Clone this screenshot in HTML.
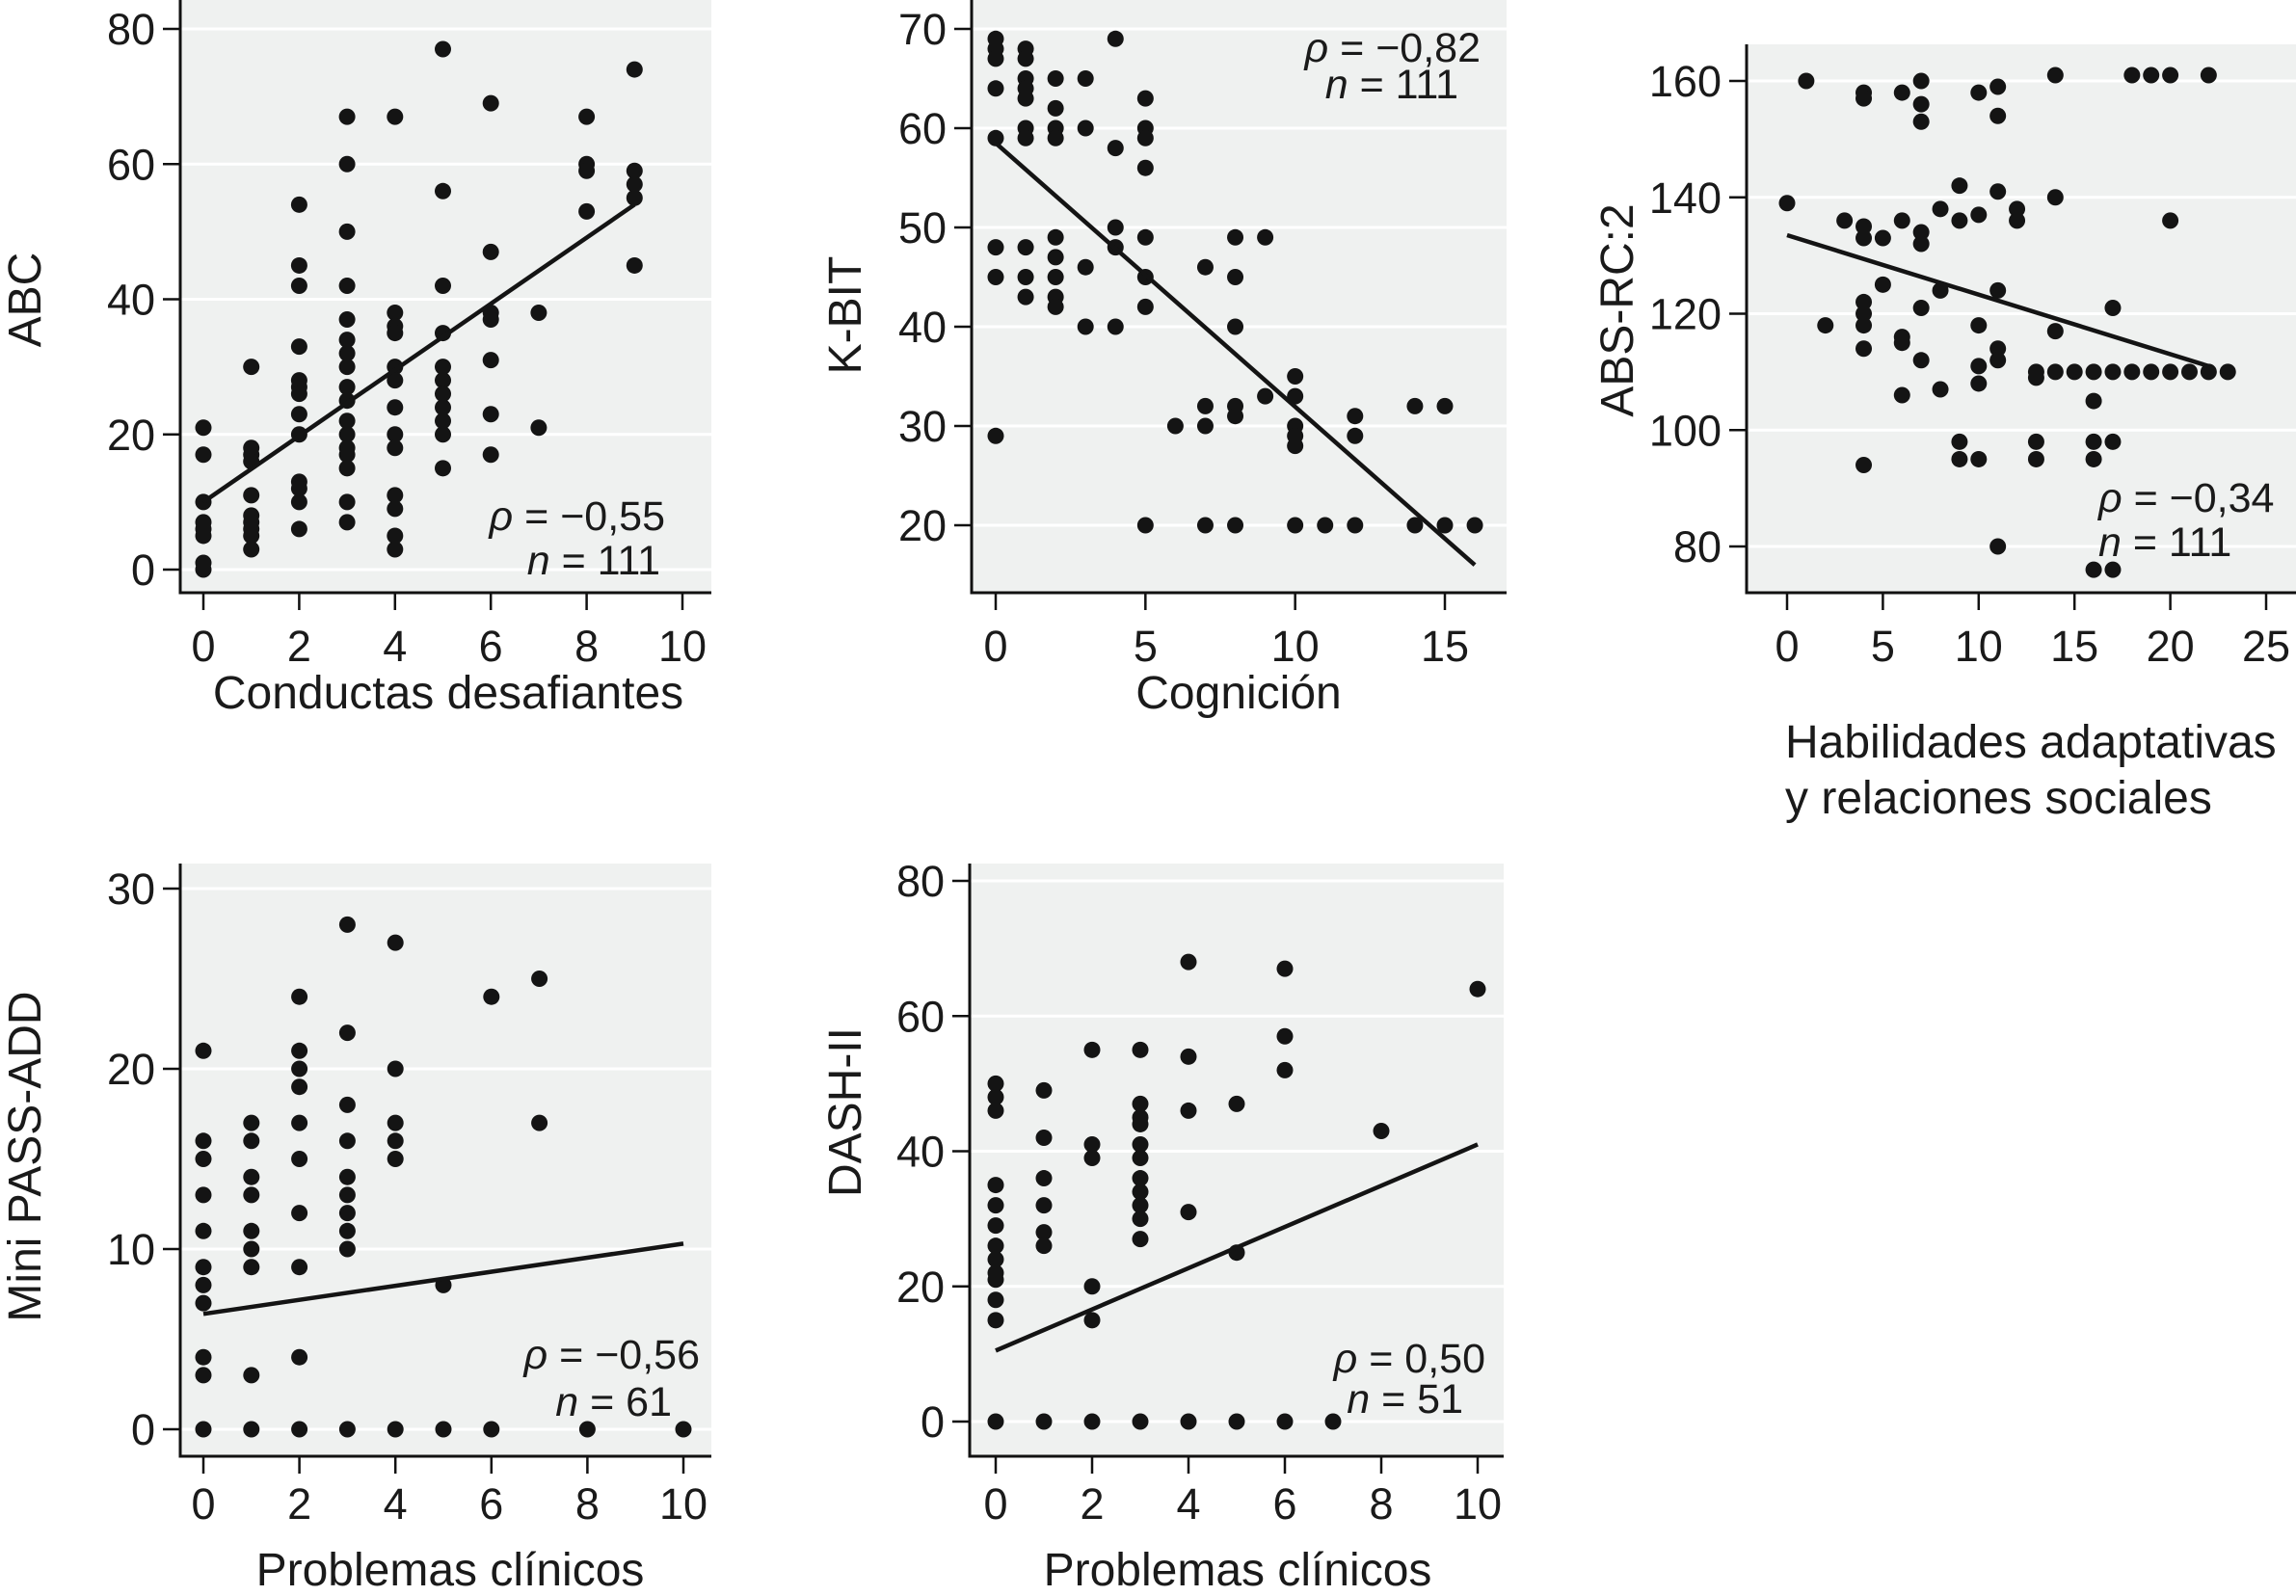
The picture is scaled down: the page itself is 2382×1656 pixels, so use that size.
<!DOCTYPE html>
<html><head><meta charset="utf-8"><style>
html,body{margin:0;padding:0;background:#fff}
svg{display:block;font-family:"Liberation Sans",Arial,sans-serif}
</style></head><body>
<svg id="chart" width="2382" height="1656" viewBox="0 0 2382 1656"></svg>
<script>
// ---- Panel 1: ABC vs Conductas desafiantes ----
const p1X = [0,0,0,0,0,0,0,0, 1,1,1,1,1,1,1,1,1,1, 2,2,2,2,2,2,2,2,2,2,2,2,2, 3,3,3,3,3,3,3,3,3,3,3,3,3,3,3,3,3, 4,4,4,4,4,4,4,4,4,4,4,4,4, 5,5,5,5,5,5,5,5,5,5,5, 6,6,6,6,6,6,6, 7,7, 8,8,8,8, 9,9,9,9,9];
const p1Y = [21,17,10,7,6,5,1,0, 30,18,17,16,11,8,7,6,5,3, 54,45,42,33,28,27,26,23,20,13,12,10,6, 67,60,50,42,37,34,32,30,27,25,22,20,18,17,15,10,7, 67,38,36,35,30,28,24,20,18,11,9,5,3, 77,56,42,35,30,28,26,24,22,20,15, 69,47,38,37,31,23,17, 38,21, 67,60,59,53, 74,59,57,55,45];
const p1Line = [[0,10],[9,54]];
const p1XTicks = [0,2,4,6,8,10];
const p1YTicks = [0,20,40,60,80];
// ---- Panel 2: K-BIT vs Cognición ----
const p2X = [0,0,0,0,0,0,0,0, 1,1,1,1,1,1,1,1,1,1, 2,2,2,2,2,2,2,2,2, 3,3,3,3, 4,4,4,4,4, 5,5,5,5,5,5,5,5, 6, 7,7,7,7, 8,8,8,8,8,8, 9,9, 10,10,10,10,10,10, 11, 12,12,12, 14,14, 15,15, 16];
const p2Y = [69,68,67,64,59,48,45,29, 68,67,65,64,63,60,59,48,45,43, 65,62,60,59,49,47,45,43,42, 65,60,46,40, 69,58,50,48,40, 63,60,59,56,49,45,42,20, 30, 46,32,30,20, 49,45,40,32,31,20, 49,33, 35,33,30,29,28,20, 20, 31,29,20, 32,20, 32,20, 20];
const p2Line = [[0,58.5],[16,16]];
const p2XTicks = [0,5,10,15];
const p2YTicks = [20,30,40,50,60,70];
// ---- Panel 3: ABS-RC:2 vs Habilidades ----
const p3X = [0,1,2,3, 4,4,4,4,4,4,4,4,4, 5,5, 6,6,6,6,6, 7,7,7,7,7,7,7, 8,8,8, 9,9,9,9, 10,10,10,10,10,10, 11,11,11,11,11,11,11, 12,12, 13,13,13,13, 14,14,14,14, 15, 16,16,16,16,16, 17,17,17,17, 18,18, 19,19, 20,20,20, 21, 22,22, 23];
const p3Y = [139,160,118,136, 158,157,135,133,122,120,118,114,94, 133,125, 158,136,116,115,106, 160,156,153,134,132,121,112, 138,124,107, 142,136,98,95, 158,137,118,111,108,95, 159,154,141,124,114,112,80, 138,136, 110,109,98,95, 161,140,117,110, 110, 110,105,98,95,76, 121,110,98,76, 161,110, 161,110, 161,136,110, 110, 161,110, 110];
const p3Line = [[0,133.5],[22,111]];
const p3XTicks = [0,5,10,15,20,25];
const p3YTicks = [80,100,120,140,160];
// ---- Panel 4: Mini PASS-ADD vs Problemas clínicos ----
const p4X = [0,0,0,0,0,0,0,0,0,0,0, 1,1,1,1,1,1,1,1,1, 2,2,2,2,2,2,2,2,2,2, 3,3,3,3,3,3,3,3,3,3, 4,4,4,4,4,4, 5,5, 6,6, 7,7, 8, 10];
const p4Y = [21,16,15,13,11,9,8,7,4,3,0, 17,16,14,13,11,10,9,3,0, 24,21,20,19,17,15,12,9,4,0, 28,22,18,16,14,13,12,11,10,0, 27,20,17,16,15,0, 8,0, 24,0, 25,17, 0, 0];
const p4Line = [[0,6.4],[10,10.3]];
const p4XTicks = [0,2,4,6,8,10];
const p4YTicks = [0,10,20,30];
// ---- Panel 5: DASH-II vs Problemas clínicos ----
const p5X = [0,0,0,0,0,0,0,0,0,0,0,0,0, 1,1,1,1,1,1,1, 2,2,2,2,2,2, 3,3,3,3,3,3,3,3,3,3,3,3, 4,4,4,4,4, 5,5,5, 6,6,6,6, 7, 8, 10];
const p5Y = [50,48,46,35,32,29,26,24,22,21,18,15,0, 49,42,36,32,28,26,0, 55,41,39,20,15,0, 55,47,45,44,41,39,36,34,32,30,27,0, 68,54,46,31,0, 47,25,0, 67,57,52,0, 0, 43, 64];
const p5Line = [[0,10.5],[10,41]];
const p5XTicks = [0,2,4,6,8,10];
const p5YTicks = [0,20,40,60,80];

const NS = "http://www.w3.org/2000/svg";
const svg = document.getElementById("chart");
function mk(tag, attrs, parent){const e=document.createElementNS(NS,tag);for(const k in attrs)e.setAttribute(k,attrs[k]);(parent||svg).appendChild(e);return e;}
function txt(s, attrs, parent){const t=mk("text",attrs,parent);t.textContent=s;return t;}

function panel(cfg){
  const g = mk("g",{});
  
  
  const sx = v => cfg.x0px + (v - cfg.xd[0])*(cfg.x1px-cfg.x0px)/(cfg.xd[1]-cfg.xd[0]);
  const sy = v => cfg.y0px + (v - cfg.yd[0])*(cfg.y1px-cfg.y0px)/(cfg.yd[1]-cfg.yd[0]);
  const bg = mk("rect",{x:cfg.left,y:cfg.top,width:cfg.right-cfg.left,height:cfg.bottom-cfg.top,fill:"#eff1f0"},g);
  
  
  cfg.yTicks.forEach(v=>{
    const gl = mk("line",{x1:cfg.left,x2:cfg.right,y1:sy(v),y2:sy(v),stroke:"#ffffff","stroke-width":3},g);
    
    
    const tk = mk("line",{x1:cfg.left-18,x2:cfg.left,y1:sy(v),y2:sy(v),stroke:"#111","stroke-width":2.5},g);
    
    
    const tl = txt(String(v),{x:cfg.left-26,y:sy(v)+16,"font-size":45,"text-anchor":"end",fill:"#1a1a1a"},g);
    
    
  });
  cfg.xTicks.forEach(v=>{
    const tk = mk("line",{x1:sx(v),x2:sx(v),y1:cfg.bottom,y2:cfg.bottom+18,stroke:"#111","stroke-width":2.5},g);
    
    
    const tl = txt(String(v),{x:sx(v),y:cfg.xTickY,"font-size":45,"text-anchor":"middle",fill:"#1a1a1a"},g);
    
    
  });
  const ax = mk("path",{d:`M${cfg.left},${cfg.top}V${cfg.bottom}H${cfg.right}`,fill:"none",stroke:"#111","stroke-width":3},g);
  
  
  cfg.xs.forEach((xv,i)=>{
    const c = mk("circle",{cx:sx(xv),cy:sy(cfg.ys[i]),r:8.5,fill:"#141414"},g);
    
    
  });
  const L = cfg.line;
  const ln = mk("line",{x1:sx(L[0][0]),y1:sy(L[0][1]),x2:sx(L[1][0]),y2:sy(L[1][1]),stroke:"#141414","stroke-width":4.5},g);
  
  
  cfg.xTitle.forEach((s,i)=>{
    const t = txt(s,{x:cfg.xTitleX,y:cfg.xTitleY+i*58,"font-size":48,"text-anchor":cfg.xTitleAnchor,fill:"#1a1a1a"},g);
    
    
  });
  const yt = txt(cfg.yTitle,{x:0,y:0,"font-size":48,"text-anchor":"middle",fill:"#1a1a1a",transform:`translate(${cfg.yTitleX},${cfg.yTitleY}) rotate(-90)`},g);
  
  
  const a = cfg.ann;
  const r = txt("",{x:a.rx,y:a.ry,"font-size":43,"text-anchor":a.anchor,fill:"#1a1a1a"},g);
  r.innerHTML = `<tspan font-style="italic">ρ</tspan> = ${a.rho}`;
  
  
  const n = txt("",{x:a.nx,y:a.ny,"font-size":43,"text-anchor":a.anchor,fill:"#1a1a1a"},g);
  n.innerHTML = `<tspan font-style="italic">n</tspan> = ${a.n}`;
  
  
}

panel({name:"panel-abc",left:187,right:738,top:0,bottom:615,x0px:211,x1px:708,xd:[0,10],y0px:591,y1px:30,yd:[0,80],
  xs:p1X,ys:p1Y,line:p1Line,xTicks:p1XTicks,yTicks:p1YTicks,xTickY:686,
  xTitle:["Conductas desafiantes"],xTitleX:465,xTitleY:735,xTitleAnchor:"middle",
  yTitle:"ABC",yTitleX:42,yTitleY:311,
  ann:{rx:690,ry:550,nx:685,ny:596,anchor:"end",rho:"−0,55",n:"111"}});
panel({name:"panel-kbit",left:1008,right:1563,top:0,bottom:615,x0px:1033,x1px:1499,xd:[0,15],y0px:545,y1px:30,yd:[20,70],
  xs:p2X,ys:p2Y,line:p2Line,xTicks:p2XTicks,yTicks:p2YTicks,xTickY:686,
  xTitle:["Cognición"],xTitleX:1285,xTitleY:735,xTitleAnchor:"middle",
  yTitle:"K-BIT",yTitleX:893,yTitleY:327,
  ann:{rx:1536,ry:64,nx:1513,ny:102,anchor:"end",rho:"−0,82",n:"111"}});
panel({name:"panel-absrc",left:1812,right:2382,top:46,bottom:615,x0px:1854,x1px:2351,xd:[0,25],y0px:567,y1px:84,yd:[80,160],
  xs:p3X,ys:p3Y,line:p3Line,xTicks:p3XTicks,yTicks:p3YTicks,xTickY:686,
  xTitle:["Habilidades adaptativas","y relaciones sociales"],xTitleX:1852,xTitleY:786,xTitleAnchor:"start",
  yTitle:"ABS-RC:2",yTitleX:1694,yTitleY:322,
  ann:{rx:2177,ry:531,nx:2177,ny:577,anchor:"start",rho:"−0,34",n:"111"}});
panel({name:"panel-minipassadd",left:187,right:738,top:896,bottom:1511,x0px:211,x1px:709,xd:[0,10],y0px:1483,y1px:922,yd:[0,30],
  xs:p4X,ys:p4Y,line:p4Line,xTicks:p4XTicks,yTicks:p4YTicks,xTickY:1576,
  xTitle:["Problemas clínicos"],xTitleX:467,xTitleY:1645,xTitleAnchor:"middle",
  yTitle:"Mini PASS-ADD",yTitleX:42,yTitleY:1200,
  ann:{rx:726,ry:1420,nx:697,ny:1469,anchor:"end",rho:"−0,56",n:"61"}});
panel({name:"panel-dash",left:1006,right:1560,top:896,bottom:1511,x0px:1033,x1px:1533,xd:[0,10],y0px:1475,y1px:914,yd:[0,80],
  xs:p5X,ys:p5Y,line:p5Line,xTicks:p5XTicks,yTicks:p5YTicks,xTickY:1576,
  xTitle:["Problemas clínicos"],xTitleX:1284,xTitleY:1645,xTitleAnchor:"middle",
  yTitle:"DASH-II",yTitleX:893,yTitleY:1154,
  ann:{rx:1541,ry:1424,nx:1518,ny:1466,anchor:"end",rho:"0,50",n:"51"}});
</script>
</body></html>
